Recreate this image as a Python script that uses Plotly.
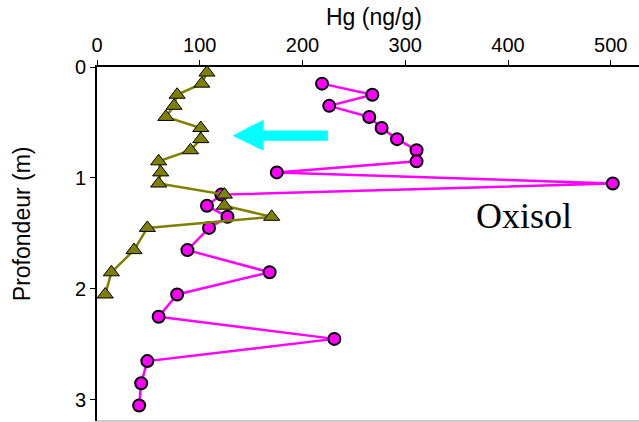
import plotly.graph_objects as go

# Series 1: olive triangles
depth_tri = [0.05, 0.15, 0.25, 0.35, 0.45, 0.55, 0.65, 0.75, 0.85, 0.95,
             1.05, 1.15, 1.25, 1.35, 1.45, 1.65, 1.85, 2.05]
hg_tri = [107, 102, 78, 75, 67, 101, 101, 91, 60, 62,
          60, 124, 124, 170, 49, 36, 14, 8]

# Series 2: magenta circles (Oxisol)
depth_circ = [0.15, 0.25, 0.35, 0.45, 0.55, 0.65, 0.75, 0.85, 0.95, 1.05,
              1.15, 1.25, 1.35, 1.45, 1.65, 1.85, 2.05, 2.25, 2.45, 2.65,
              2.85, 3.05]
hg_circ = [219, 268, 226, 265, 277, 292, 311, 311, 175, 502,
           121, 107, 127, 109, 88, 168, 78, 60, 231, 49,
           43, 41]

x_ticks = [0, 100, 200, 300, 400, 500]
y_ticks = [0, 1, 2, 3]
x_title = "Hg (ng/g)"
y_title = "Profondeur (m)"
label_text = "Oxisol"

fig = go.Figure()

fig.add_trace(go.Scatter(
    x=hg_circ, y=depth_circ, mode="lines+markers",
    line=dict(color="#FF00FF", width=2.5),
    marker=dict(symbol="circle", size=12, color="#FF00FF",
                line=dict(color="black", width=2)),
    showlegend=False, cliponaxis=False))

fig.add_trace(go.Scatter(
    x=hg_tri, y=depth_tri, mode="lines+markers",
    line=dict(color="#808000", width=2.5),
    marker=dict(symbol="triangle-up", size=14, color="#808000",
                line=dict(color="black", width=1)),
    showlegend=False, cliponaxis=False))

# Cyan arrow (decoration)
tip_x, head_x, tail_x = 131.9, 162.1, 224.7
tip_y, head_top, head_bot = 0.619, 0.475, 0.755
shaft_top, shaft_bot = 0.572, 0.665
path = (f"M {tip_x},{tip_y} L {head_x},{head_top} L {head_x},{shaft_top} "
        f"L {tail_x},{shaft_top} L {tail_x},{shaft_bot} L {head_x},{shaft_bot} "
        f"L {head_x},{head_bot} Z")
fig.add_shape(type="path", path=path, xref="x", yref="y",
              fillcolor="#00FFFF", line=dict(color="#00FFFF", width=0))

# bottom faint line
fig.add_shape(type="line", xref="paper", yref="paper", x0=0, x1=1, y0=0, y1=0,
              line=dict(color="#999999", width=1))

font_sans = "Liberation Sans, Arial, sans-serif"

fig.add_annotation(text=x_title, xref="paper", yref="paper", x=0.5, y=1,
                   xshift=6, yshift=50, xanchor="center", yanchor="middle",
                   showarrow=False, font=dict(family=font_sans, size=23, color="black"))
fig.add_annotation(text=y_title, xref="paper", yref="paper", x=0, y=0.556,
                   xshift=-75, xanchor="center", yanchor="middle", textangle=-90,
                   showarrow=False, font=dict(family=font_sans, size=23, color="black"))
fig.add_annotation(text=label_text, xref="x", yref="y", x=416, y=1.34,
                   xanchor="center", yanchor="middle", showarrow=False,
                   font=dict(family="Liberation Serif, Times New Roman, serif",
                             size=36, color="black"))

fig.update_layout(
    width=639, height=422,
    margin=dict(l=97, r=0, t=67, b=1),
    paper_bgcolor="white", plot_bgcolor="white",
    font=dict(family=font_sans, size=20, color="black"),
)
fig.update_xaxes(side="top", range=[0, 527.5], tickvals=x_ticks,
                 automargin=False,
                 showgrid=False, zeroline=False, showline=True,
                 linecolor="black", linewidth=2, ticks="outside",
                 ticklen=5, tickcolor="black", tickwidth=1)
fig.update_yaxes(range=[3.19, 0], tickvals=y_ticks,
                 automargin=False,
                 showgrid=False, zeroline=False, showline=True,
                 linecolor="black", linewidth=2, ticks="outside",
                 ticklen=5, tickcolor="black", tickwidth=1)

fig.write_html("out.html",
               config={"displayModeBar": False},
               post_script="document.body.style.margin='0';"
                           "document.body.style.overflow='hidden';")
